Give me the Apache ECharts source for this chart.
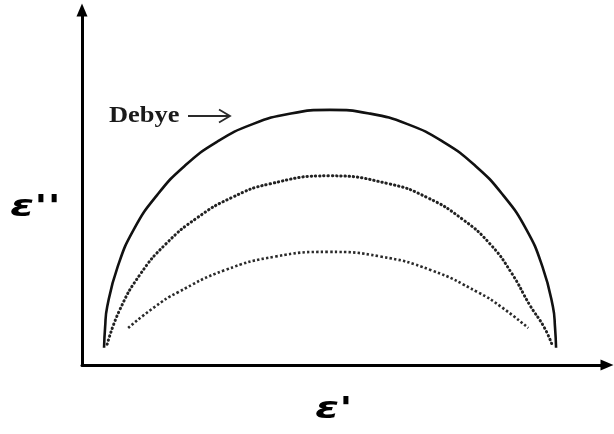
<!DOCTYPE html>
<html>
<head>
<meta charset="utf-8">
<style>
  html, body { margin: 0; padding: 0; background: #ffffff; }
  #chart { width: 614px; height: 434px; }
</style>
<script src="https://cdn.jsdelivr.net/npm/echarts@6/dist/echarts.min.js"></script>
</head>
<body>
<div id="chart"></div>
<script>
// Cole-Cole plane: real permittivity (ε′) against loss (ε″), arbitrary units.
// Ideal Debye semicircle
const debyeReal = [0.42, 0.44, 0.48, 0.68, 0.99, 1.43, 1.96, 2.57, 3.25, 3.98, 4.72,
                   5.47, 6.20, 6.88, 7.49, 8.02, 8.46, 8.77, 8.97, 9.01, 9.03];
const debyeLoss = [0.34, 0.74, 1.15, 1.94, 2.68, 3.35, 3.93, 4.40, 4.75, 4.96, 5.03,
                   4.96, 4.75, 4.40, 3.93, 3.35, 2.68, 1.94, 1.15, 0.74, 0.34];

// Depressed arc (moderate distribution of relaxation times)
const arcAReal = [0.48, 0.72, 1.11, 1.60, 2.19, 2.85, 3.57, 4.71,
                  5.86, 6.58, 7.24, 7.77, 8.19, 8.53, 8.80, 8.95];
const arcALoss = [0.41, 1.09, 1.79, 2.39, 2.90, 3.30, 3.57, 3.73,
                  3.57, 3.30, 2.88, 2.39, 1.80, 1.18, 0.75, 0.41];

// Strongly depressed arc (broad distribution)
const arcBReal = [0.88, 1.39, 1.82, 2.72, 3.69, 4.69, 5.68, 6.65, 7.55, 7.98, 8.50];
const arcBLoss = [0.73, 1.15, 1.43, 1.87, 2.14, 2.23, 2.14, 1.87, 1.43, 1.15, 0.73];

const axisRealMax = 10;
const axisLossMax = 7;

const pairs = (xs, ys) => xs.map((x, i) => [x, ys[i]]);

const chart = echarts.init(document.getElementById('chart'), null, { renderer: 'canvas' });

const axisCommon = {
  type: 'value',
  axisLabel: { show: false },
  axisTick: { show: false },
  splitLine: { show: false },
  axisLine: {
    show: true,
    symbol: ['none', 'triangle'],
    symbolSize: [11, 13],
    lineStyle: { color: '#000000', width: 3 }
  }
};

chart.setOption({
  animation: false,
  backgroundColor: '#ffffff',
  grid: { left: 82, right: 7, top: 10, bottom: 69 },
  xAxis: Object.assign({}, axisCommon, { min: 0, max: axisRealMax }),
  yAxis: Object.assign({}, axisCommon, { min: 0, max: axisLossMax }),
  series: [
    {
      name: 'Debye',
      type: 'line',
      data: pairs(debyeReal, debyeLoss),
      smooth: 0.5,
      showSymbol: false,
      lineStyle: { color: '#111111', width: 2.6 }
    },
    {
      name: 'arcA',
      type: 'line',
      data: pairs(arcAReal, arcALoss),
      smooth: 0.5,
      showSymbol: false,
      lineStyle: { color: '#222222', width: 3, type: [0.4, 3.8], cap: 'round' }
    },
    {
      name: 'arcB',
      type: 'line',
      data: pairs(arcBReal, arcBLoss),
      smooth: 0.5,
      showSymbol: false,
      lineStyle: { color: '#2a2a2a', width: 2.6, type: [2.4, 2.2], cap: 'butt' }
    }
  ],
  graphic: [
    {
      type: 'text', x: 109, y: 116, scaleX: 1.15,
      style: {
        text: 'Debye', fill: '#1a1a1a',
        font: 'bold 23px "Liberation Serif"',
        verticalAlign: 'middle', align: 'left'
      }
    },
    {
      type: 'line',
      shape: { x1: 188, y1: 116, x2: 229, y2: 116 },
      style: { stroke: '#2a2a2a', lineWidth: 1.8 }
    },
    {
      type: 'polyline',
      shape: { points: [[219, 109.5], [230, 116], [219, 122.5]] },
      style: { stroke: '#2a2a2a', lineWidth: 1.8, fill: null }
    },
    {
      type: 'text', x: 10, y: 208, scaleX: 1.4,
      style: {
        text: "ε''", fill: '#000000',
        font: 'bold italic 31px "DejaVu Sans"',
        verticalAlign: 'middle', align: 'left'
      }
    },
    {
      type: 'text', x: 315, y: 410, scaleX: 1.4,
      style: {
        text: "ε'", fill: '#000000',
        font: 'bold italic 31px "DejaVu Sans"',
        verticalAlign: 'middle', align: 'left'
      }
    }
  ]
});
</script>
</body>
</html>
